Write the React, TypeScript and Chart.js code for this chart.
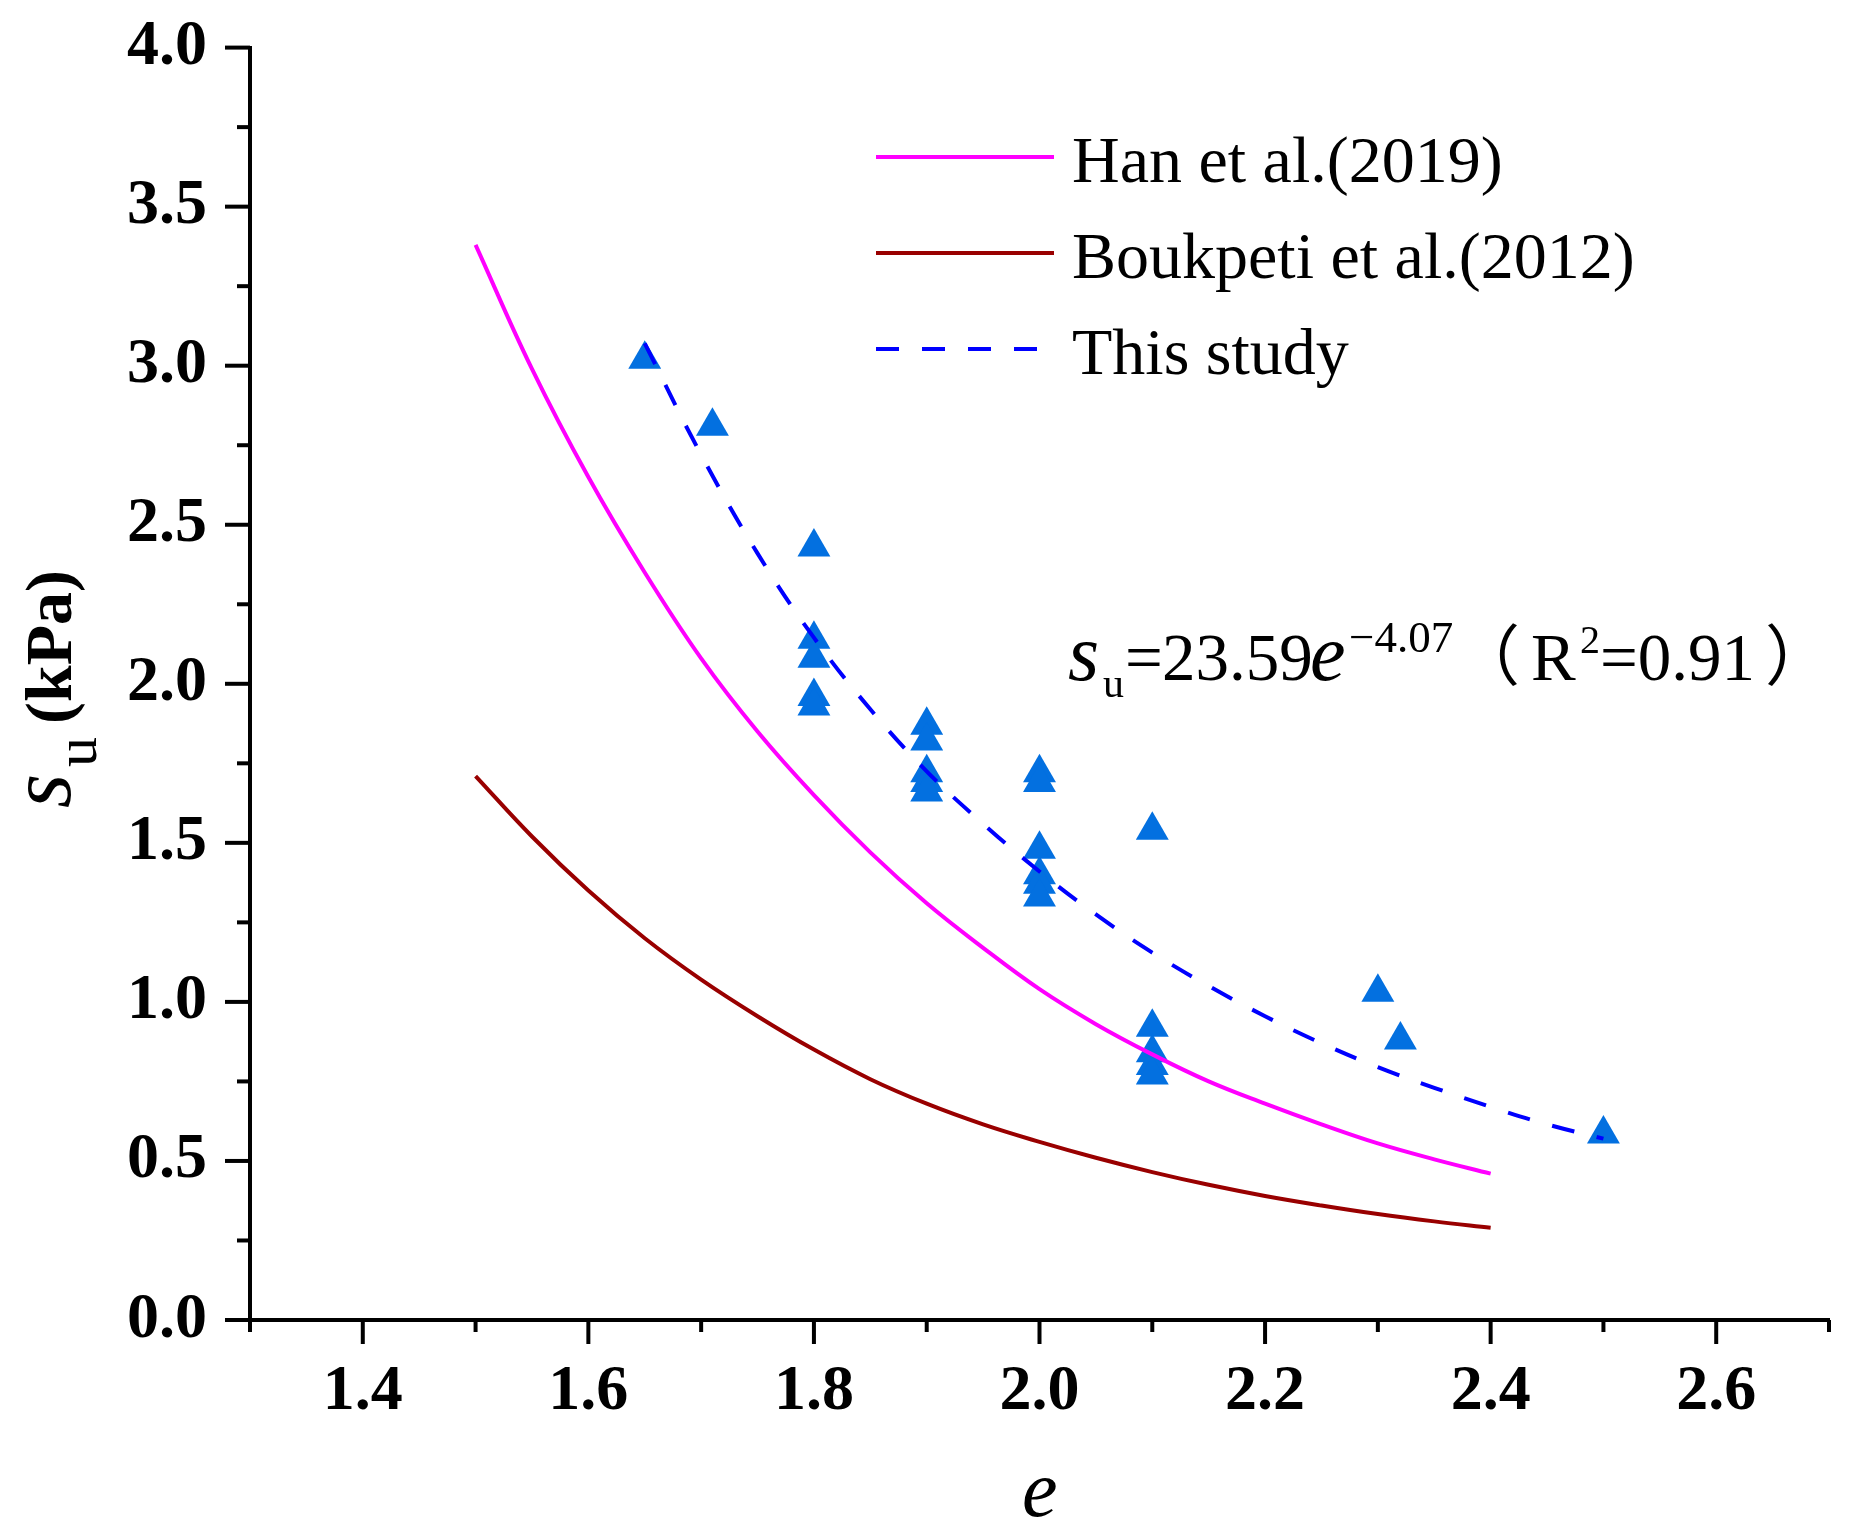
import { useEffect, useRef } from "react";
import { Chart, registerables } from "chart.js";
import type { Plugin } from "chart.js";

Chart.register(...registerables);

const SERIF = "'Times New Roman', 'Liberation Serif', 'Noto Sans CJK SC', serif";

// measured points (void ratio e, undrained strength su in kPa)
const pointE = [
  1.65, 1.71,
  1.8, 1.8, 1.8, 1.8, 1.8,
  1.9, 1.9, 1.9, 1.9, 1.9,
  2.0, 2.0, 2.0, 2.0, 2.0, 2.0,
  2.1, 2.1, 2.1, 2.1, 2.1,
  2.3, 2.32, 2.5,
];
const pointSu = [
  3.02, 2.81,
  2.43, 2.14, 2.08, 1.96, 1.93,
  1.87, 1.82, 1.72, 1.69, 1.66,
  1.72, 1.69, 1.48, 1.4, 1.37, 1.33,
  1.54, 0.92, 0.84, 0.8, 0.77,
  1.03, 0.88, 0.585,
];

// Han et al.(2019) curve
const hanE = [1.5, 1.55, 1.6, 1.65, 1.7, 1.75, 1.8, 1.85, 1.9, 1.95, 2.0, 2.05, 2.1, 2.15, 2.2, 2.25, 2.3, 2.35, 2.4];
const hanSu = [3.38, 2.99, 2.65, 2.35, 2.08, 1.85, 1.65, 1.47, 1.31, 1.17, 1.04, 0.93, 0.835, 0.75, 0.68, 0.615, 0.555, 0.505, 0.46];

// Boukpeti et al.(2012) curve
const boukE = [1.5, 1.55, 1.6, 1.65, 1.7, 1.75, 1.8, 1.85, 1.9, 1.95, 2.0, 2.05, 2.1, 2.15, 2.2, 2.25, 2.3, 2.35, 2.4];
const boukSu = [1.71, 1.52, 1.35, 1.2, 1.07, 0.955, 0.85, 0.757, 0.68, 0.615, 0.56, 0.51, 0.465, 0.425, 0.39, 0.36, 0.333, 0.31, 0.29];

// this study, fitted curve
const fitE = [1.65, 1.7, 1.75, 1.8, 1.85, 1.9, 1.95, 2.0, 2.05, 2.1, 2.15, 2.2, 2.25, 2.3, 2.35, 2.4, 2.45, 2.5];
const fitSu = [3.07, 2.72, 2.41, 2.145, 1.92, 1.725, 1.56, 1.41, 1.275, 1.155, 1.05, 0.955, 0.87, 0.795, 0.73, 0.67, 0.615, 0.57];

const xMajor = [1.4, 1.6, 1.8, 2.0, 2.2, 2.4, 2.6];
const xMinor = [1.3, 1.5, 1.7, 1.9, 2.1, 2.3, 2.5, 2.7];
const yMajor = [0, 0.5, 1.0, 1.5, 2.0, 2.5, 3.0, 3.5, 4.0];
const yMinor = [0.25, 0.75, 1.25, 1.75, 2.25, 2.75, 3.25, 3.75];

const legendLabels = ["Han et al.(2019)", "Boukpeti et al.(2012)", "This study"];

const HAN_COLOR = "#FF00FF";
const BOUK_COLOR = "#990000";
const FIT_COLOR = "#0000FF";
const TRI_COLOR = "#0370E0";

type Run = { text: string; font: string; x: number; y: number };

// x is where the ink should start, y is the baseline
function drawRun(ctx: CanvasRenderingContext2D, run: Run) {
  ctx.font = run.font;
  const m = ctx.measureText(run.text);
  ctx.fillText(run.text, run.x + m.actualBoundingBoxLeft, run.y);
}

const equationRuns: Run[] = [
  { text: "s", font: `italic 80px ${SERIF}`, x: 1068, y: 680 },
  { text: "u", font: `42px ${SERIF}`, x: 1103, y: 697 },
  { text: "=", font: `67px ${SERIF}`, x: 1128, y: 680 },
  { text: "23.59", font: `67px ${SERIF}`, x: 1164, y: 680 },
  { text: "e", font: `italic 80px ${SERIF}`, x: 1312, y: 680 },
  { text: "\u22124.07", font: `45px ${SERIF}`, x: 1351, y: 652 },
  { text: "\uFF08", font: `66px ${SERIF}`, x: 1499, y: 680 },
  { text: "R", font: `67px ${SERIF}`, x: 1532, y: 680 },
  { text: "2", font: `40px ${SERIF}`, x: 1581, y: 653 },
  { text: "=0.91", font: `67px ${SERIF}`, x: 1603, y: 680 },
  { text: "\uFF09", font: `66px ${SERIF}`, x: 1768, y: 680 },
];

// y title is drawn rotated: x runs upward (negative screen y), y is screen x
const yTitleRuns: Run[] = [
  { text: "s", font: `italic 88px ${SERIF}`, x: -807, y: 70 },
  { text: "u", font: `60px ${SERIF}`, x: -767, y: 96 },
  { text: "(kPa)", font: `bold 66px ${SERIF}`, x: -722, y: 71 },
];

const legendLineY = [157, 253, 349];
const legendTextY = [182, 278, 374];

const decorations: Plugin<"scatter"> = {
  id: "decorations",
  afterDraw(chart) {
    const { ctx, chartArea, scales } = chart;
    const xs = scales.x;
    const ys = scales.y;
    ctx.save();

    // tick marks, pointing outwards
    ctx.strokeStyle = "#000";
    ctx.lineWidth = 4;
    ctx.lineCap = "butt";
    const tick = (x1: number, y1: number, x2: number, y2: number) => {
      ctx.beginPath();
      ctx.moveTo(x1, y1);
      ctx.lineTo(x2, y2);
      ctx.stroke();
    };
    xMajor.forEach((v) => {
      const px = xs.getPixelForValue(v);
      tick(px, chartArea.bottom, px, chartArea.bottom + 24);
    });
    xMinor.forEach((v) => {
      const px = xs.getPixelForValue(v);
      tick(px, chartArea.bottom, px, chartArea.bottom + 12);
    });
    yMajor.forEach((v) => {
      const py = ys.getPixelForValue(v);
      tick(chartArea.left, py, chartArea.left - 25, py);
    });
    yMinor.forEach((v) => {
      const py = ys.getPixelForValue(v);
      tick(chartArea.left, py, chartArea.left - 13, py);
    });

    ctx.fillStyle = "#000";
    ctx.textAlign = "left";
    ctx.textBaseline = "alphabetic";

    // legend
    legendLabels.forEach((label, i) => {
      const ds: any = chart.data.datasets[i];
      ctx.strokeStyle = ds.borderColor;
      ctx.lineWidth = ds.borderWidth;
      ctx.setLineDash(ds.borderDash || []);
      ctx.beginPath();
      ctx.moveTo(876, legendLineY[i]);
      ctx.lineTo(1054, legendLineY[i]);
      ctx.stroke();
      ctx.setLineDash([]);
      drawRun(ctx, { text: label, font: `66px ${SERIF}`, x: 1073, y: legendTextY[i] });
    });

    // fitted equation
    equationRuns.forEach((r) => drawRun(ctx, r));

    // x axis title
    drawRun(ctx, { text: "e", font: `italic 80px ${SERIF}`, x: 1024, y: 1516 });

    // y axis title
    ctx.save();
    ctx.rotate(-Math.PI / 2);
    yTitleRuns.forEach((r) => drawRun(ctx, r));
    ctx.restore();

    ctx.restore();
  },
};

const toXY = (xs: number[], ys: number[]) => xs.map((x, i) => ({ x, y: ys[i] }));

export default function App() {
  const canvasRef = useRef<HTMLCanvasElement>(null);
  const chartRef = useRef<Chart<"scatter"> | null>(null);

  useEffect(() => {
    if (!canvasRef.current) return;
    const ctx = canvasRef.current.getContext("2d");
    if (!ctx) return;

    if (chartRef.current) {
      chartRef.current.destroy();
    }

    const tickFont = { family: SERIF, size: 64, weight: "bold" as const };

    chartRef.current = new Chart(ctx, {
      type: "scatter",
      data: {
        datasets: [
          {
            label: legendLabels[0],
            data: toXY(hanE, hanSu),
            showLine: true,
            borderColor: HAN_COLOR,
            borderWidth: 4,
            pointRadius: 0,
            tension: 0.4,
          },
          {
            label: legendLabels[1],
            data: toXY(boukE, boukSu),
            showLine: true,
            borderColor: BOUK_COLOR,
            borderWidth: 4,
            pointRadius: 0,
            tension: 0.4,
          },
          {
            label: legendLabels[2],
            data: toXY(fitE, fitSu),
            showLine: true,
            borderColor: FIT_COLOR,
            borderWidth: 4,
            borderDash: [23, 23],
            pointRadius: 0,
            tension: 0.4,
          },
          {
            label: "measured",
            data: toXY(pointE, pointSu),
            showLine: false,
            pointStyle: "triangle",
            pointRadius: 19,
            pointHoverRadius: 19,
            backgroundColor: TRI_COLOR,
            borderWidth: 0,
          },
        ],
      },
      options: {
        animation: false,
        responsive: true,
        maintainAspectRatio: false,
        events: [],
        layout: {
          padding: { left: 0, right: 23, top: 47.6, bottom: 0 },
        },
        plugins: {
          legend: { display: false },
          tooltip: { enabled: false },
        },
        scales: {
          x: {
            type: "linear",
            min: 1.3,
            max: 2.7,
            afterBuildTicks: (scale) => {
              scale.ticks = xMajor.map((v) => ({ value: v }));
            },
            afterFit: (scale) => {
              scale.height = 219;
            },
            ticks: {
              font: tickFont,
              color: "#000",
              padding: 11,
              maxRotation: 0,
              autoSkip: false,
              callback: (value) => Number(value).toFixed(1),
            },
            grid: {
              drawOnChartArea: false,
              tickLength: 23,
              tickColor: "rgba(0,0,0,0)",
            },
            border: { display: true, color: "#000", width: 4 },
          },
          y: {
            type: "linear",
            min: 0,
            max: 4,
            afterBuildTicks: (scale) => {
              scale.ticks = yMajor.map((v) => ({ value: v }));
            },
            afterFit: (scale) => {
              scale.width = 250;
            },
            ticks: {
              font: tickFont,
              color: "#000",
              padding: 0,
              autoSkip: false,
              callback: (value) => Number(value).toFixed(1),
            },
            grid: {
              drawOnChartArea: false,
              tickLength: 43,
              tickColor: "rgba(0,0,0,0)",
            },
            border: { display: true, color: "#000", width: 4 },
          },
        },
      },
      plugins: [decorations],
    });

    return () => {
      if (chartRef.current) {
        chartRef.current.destroy();
        chartRef.current = null;
      }
    };
  }, []);

  return (
    <div style={{ position: "absolute", left: 0, top: 0, width: 1852, height: 1539, background: "#fff" }}>
      <canvas ref={canvasRef} />
    </div>
  );
}
